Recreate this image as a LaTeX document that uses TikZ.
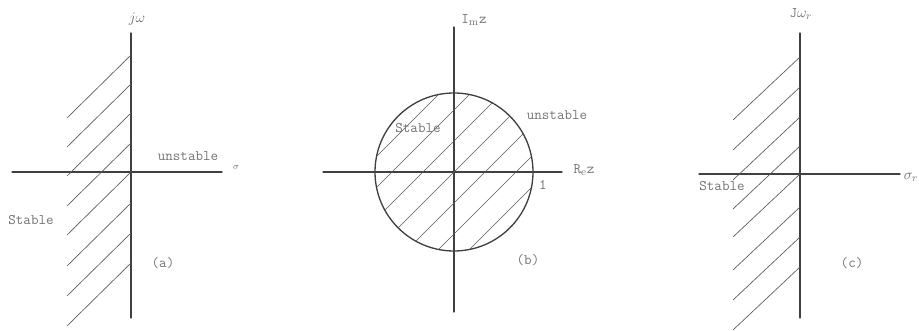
\documentclass[tikz,border=0pt]{standalone}
\begin{document}
\begin{tikzpicture}[x=0.0265cm,y=0.0265cm,line cap=round,line join=round,
  axis/.style={line width=1pt,black!75},
  hatch/.style={line width=0.5pt,black!65},
  lbl/.style={font=\fontsize{11}{13}\selectfont\ttfamily,text=black!55,inner sep=1pt}]
  \useasboundingbox (0,0) rectangle (919,331);
  % (a) s-plane
  \draw[axis] (131,298)--(131,13);
  \draw[axis] (12,159)--(222,159);
  \foreach \y in {276,247,218,188,159,128,98,68} {\draw[hatch] (131,\y)--(67,\y-63);}
  \node[lbl] (ajw) at (137,312) {$j\omega$};
  \node[lbl,font=\scriptsize] (asig) at (236,163) {$\sigma$};
  \node[lbl] (aunst) at (188,175) {unstable};
  \node[lbl] (astab) at (31,111) {Stable};
  \node[lbl] (acap) at (163,68) {(a)};
  % (b) z-plane
  \draw[axis] (454,304)--(454,19);
  \draw[axis] (323,159)--(562,159);
  \begin{scope}
    \clip (454,159) circle (79);
    \foreach \c in {-93,-62,-31,0,31,62,93} {\draw[hatch] (354,59-\c)--(554,259-\c);}
  \end{scope}
  \draw[axis] (454,159) circle (79);
  \node[lbl] (bim) at (474,311) {I$_\mathrm{m}$z};
  \node[lbl] (bre) at (584,161) {R$_\mathrm{e}$z};
  \node[lbl] (bone) at (543,146) {1};
  \node[lbl] (bunst) at (557,216) {unstable};
  \node[lbl] (bstab) at (418,203) {Stable};
  \node[lbl] (bcap) at (528,71) {(b)};
  % (c) w-plane
  \draw[axis] (800,298)--(800,13);
  \draw[axis] (699,157)--(900,157);
  \foreach \y in {274,244,214,185,157,124,94,64} {\draw[hatch] (800,\y)--(733,\y-63);}
  \node[lbl] (cjw) at (801,317) {J$\omega_r$};
  \node[lbl] (csig) at (911,154) {$\sigma_r$};
  \node[lbl] (cstab) at (722,145) {Stable};
  \node[lbl] (ccap) at (852,68) {(c)};
\end{tikzpicture}
\end{document}
